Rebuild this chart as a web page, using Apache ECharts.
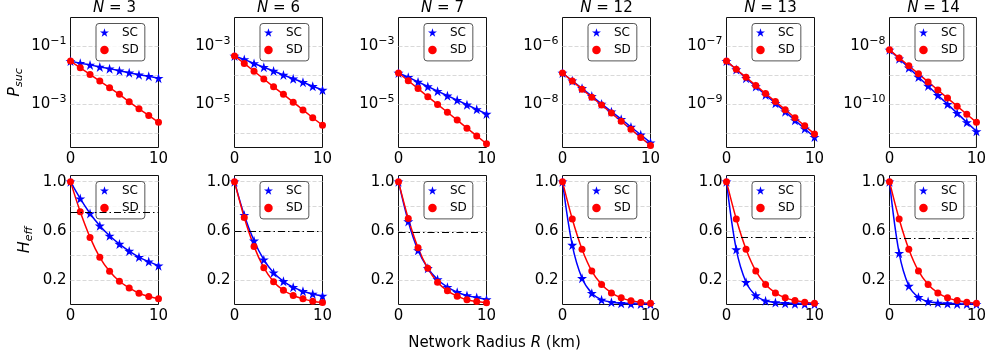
<!DOCTYPE html>
<html>
<head>
<meta charset="utf-8">
<script src="https://cdn.jsdelivr.net/npm/echarts@6/dist/echarts.min.js"></script>
<style>
  html, body { margin: 0; padding: 0; background: #fff; }
  #chart { width: 989px; height: 360px; }
</style>
</head>
<body>
<div id="chart"></div>
<script>
// network sizes, one column each
const N_LIST = [3, 6, 7, 12, 13, 14];
// network radius R (km) of the sampled points
const R_KM = [0, 1.11, 2.22, 3.33, 4.44, 5.56, 6.67, 7.78, 8.89, 10];

// log10 of P_suc
const LOG_PSUC_SC = [
  [-1.51, -1.58, -1.64, -1.71, -1.77, -1.84, -1.91, -1.98, -2.03, -2.10],
  [-3.33, -3.45, -3.59, -3.72, -3.85, -3.99, -4.12, -4.24, -4.38, -4.51],
  [-3.92, -4.07, -4.23, -4.39, -4.55, -4.71, -4.86, -5.02, -5.18, -5.34],
  [-6.92, -7.19, -7.45, -7.72, -7.99, -8.26, -8.52, -8.79, -9.06, -9.33],
  [-7.51, -7.80, -8.10, -8.39, -8.68, -8.97, -9.26, -9.56, -9.85, -10.14],
  [-8.12, -8.43, -8.74, -9.06, -9.37, -9.69, -10.00, -10.31, -10.63, -10.94]
];
const LOG_PSUC_SD = [
  [-1.51, -1.74, -1.97, -2.20, -2.43, -2.66, -2.92, -3.16, -3.39, -3.63],
  [-3.33, -3.59, -3.86, -4.13, -4.40, -4.66, -4.93, -5.20, -5.47, -5.73],
  [-3.92, -4.19, -4.46, -4.74, -5.01, -5.28, -5.55, -5.83, -6.10, -6.37],
  [-6.92, -7.20, -7.48, -7.76, -8.03, -8.31, -8.59, -8.87, -9.15, -9.43],
  [-7.51, -7.79, -8.07, -8.35, -8.63, -8.91, -9.19, -9.47, -9.75, -10.03],
  [-8.12, -8.40, -8.67, -8.95, -9.23, -9.51, -9.79, -10.07, -10.35, -10.63]
];

// H_eff, bottom row
const HEFF_SC = [
  [1.0, 0.862, 0.741, 0.641, 0.559, 0.492, 0.435, 0.386, 0.349, 0.316],
  [1.0, 0.727, 0.519, 0.365, 0.259, 0.189, 0.141, 0.108, 0.086, 0.070],
  [1.0, 0.676, 0.441, 0.295, 0.203, 0.141, 0.100, 0.073, 0.057, 0.041],
  [1.0, 0.484, 0.214, 0.092, 0.038, 0.019, 0.010, 0.006, 0.004, 0.003],
  [1.0, 0.448, 0.181, 0.073, 0.030, 0.016, 0.010, 0.006, 0.004, 0.003],
  [1.0, 0.418, 0.151, 0.059, 0.024, 0.013, 0.008, 0.005, 0.004, 0.003]
];
const HEFF_SD = [
  [1.0, 0.754, 0.546, 0.384, 0.270, 0.189, 0.135, 0.092, 0.065, 0.046],
  [1.0, 0.708, 0.473, 0.300, 0.186, 0.116, 0.073, 0.046, 0.027, 0.016],
  [1.0, 0.700, 0.462, 0.295, 0.181, 0.111, 0.068, 0.038, 0.024, 0.014],
  [1.0, 0.696, 0.450, 0.272, 0.162, 0.094, 0.054, 0.030, 0.017, 0.011],
  [1.0, 0.696, 0.450, 0.273, 0.162, 0.094, 0.054, 0.032, 0.019, 0.011],
  [1.0, 0.696, 0.450, 0.273, 0.162, 0.094, 0.054, 0.032, 0.019, 0.011]
];
// dash-dot reference level in each H_eff panel
const HEFF_REF = [0.75, 0.60, 0.59, 0.55, 0.545, 0.54];

// log10 range of each P_suc axis and the decades that carry a label
const PSUC_RANGE = [[-4.5, 0], [-6.5, -2], [-6.5, -2], [-9.5, -5], [-10.5, -6], [-11.5, -7]];
const PSUC_TICKS = [[-1, -3], [-3, -5], [-3, -5], [-6, -8], [-7, -9], [-8, -10]];
const HEFF_TICKS = [0.2, 0.6, 1.0];

const FONT = 'DejaVu Sans';
const STAR = 'path://M50,0L61.2,34.5L97.6,34.5L68.2,55.9L79.4,90.5L50,69.1L20.6,90.5L31.8,55.9L2.4,34.5L38.8,34.5Z';
const BLUE = '#0000ff';
const RED = '#ff0000';

// half-pixel offsets keep the 1px frames crisp
const PANEL_LEFT = [70.5, 234.5, 398.5, 562.5, 726.5, 889.5];
const PANEL_W = 88;
const ROW_TOP = [17.5, 175.5];
const ROW_H = [130, 129];

const chart = echarts.init(document.getElementById('chart'));

const grid = [], xAxis = [], yAxis = [], series = [], legend = [], graphic = [];

const gridLine = { show: true, showMinLine: false, showMaxLine: false,
  lineStyle: { color: '#d9d9d9', type: [4, 2], width: 1 } };

N_LIST.forEach((n, i) => {
  for (let row = 0; row < 2; row++) {
    const g = grid.length;
    grid.push({
      left: PANEL_LEFT[i], top: ROW_TOP[row], width: PANEL_W, height: ROW_H[row],
      show: true, borderColor: '#111', borderWidth: 1, backgroundColor: 'transparent'
    });
    xAxis.push({
      type: 'value', gridIndex: g, min: 0, max: 10, interval: 10,
      axisLine: { show: false }, axisTick: { show: false }, splitLine: { show: false },
      axisLabel: { fontSize: 15, color: '#000', fontFamily: FONT, margin: 4 }
    });

    if (row === 0) {
      const ticks = PSUC_TICKS[i];
      yAxis.push({
        type: 'value', gridIndex: g,
        min: PSUC_RANGE[i][0], max: PSUC_RANGE[i][1], minInterval: 1, maxInterval: 1,
        axisLine: { show: false }, axisTick: { show: false }, splitLine: gridLine,
        axisLabel: {
          margin: 4, color: '#000', fontFamily: FONT,
          formatter: v => {
            const e = Math.round(v);
            if (Math.abs(v - e) > 1e-6 || !ticks.includes(e)) return '';
            return '{b|10}{s|' + (e < 0 ? '\u2212' : '') + Math.abs(e) + '}';
          },
          rich: {
            b: { fontSize: 15, fontFamily: FONT, color: '#000' },
            s: { fontSize: 11, fontFamily: FONT, color: '#000', padding: [0, 0, 11, 0] }
          }
        },
        name: i === 0 ? '{p|P}{s|suc}' : '', nameLocation: 'middle', nameRotate: 90, nameGap: 46,
        nameTextStyle: {
          color: '#000',
          rich: {
            p: { fontSize: 16, fontStyle: 'italic', fontFamily: FONT, color: '#000' },
            s: { fontSize: 11, fontStyle: 'italic', fontFamily: FONT, color: '#000', padding: [9, 0, 0, 0] }
          }
        }
      });
    } else {
      yAxis.push({
        type: 'value', gridIndex: g, min: 0, max: 1.05, minInterval: 0.2, maxInterval: 0.2,
        axisLine: { show: false }, axisTick: { show: false }, splitLine: gridLine,
        axisLabel: {
          margin: 4, fontSize: 15, color: '#000', fontFamily: FONT,
          formatter: v => HEFF_TICKS.some(t => Math.abs(t - v) < 1e-6) ? v.toFixed(1) : ''
        },
        name: i === 0 ? '{p|H}{s|eff}' : '', nameLocation: 'middle', nameRotate: 90, nameGap: 36,
        nameTextStyle: {
          color: '#000',
          rich: {
            p: { fontSize: 16, fontStyle: 'italic', fontFamily: FONT, color: '#000' },
            s: { fontSize: 11, fontStyle: 'italic', fontFamily: FONT, color: '#000', padding: [9, 0, 0, 0] }
          }
        }
      });
    }

    const sc = row === 0 ? LOG_PSUC_SC[i] : HEFF_SC[i];
    const sd = row === 0 ? LOG_PSUC_SD[i] : HEFF_SD[i];
    const smooth = row === 1 ? 0.35 : false;

    series.push({
      type: 'line', name: 'SC', xAxisIndex: g, yAxisIndex: g,
      data: R_KM.map((r, k) => [r, sc[k]]),
      symbol: STAR, symbolSize: 10, smooth, color: BLUE,
      lineStyle: { width: 1.5, color: BLUE }, itemStyle: { color: BLUE },
      markLine: row === 1 ? {
        silent: true, symbol: 'none', label: { show: false },
        lineStyle: { color: '#000', type: [7, 3, 1.5, 3], width: 1 },
        data: [{ yAxis: HEFF_REF[i] }]
      } : undefined
    });
    series.push({
      type: 'line', name: 'SD', xAxisIndex: g, yAxisIndex: g,
      data: R_KM.map((r, k) => [r, sd[k]]),
      symbol: 'circle', symbolSize: 7, smooth, color: RED,
      lineStyle: { width: 1.5, color: RED }, itemStyle: { color: RED }
    });

    legend.push({
      left: PANEL_LEFT[i] + 25.5, top: ROW_TOP[row] + 6, orient: 'vertical',
      data: [{ name: 'SC', icon: STAR }, { name: 'SD', icon: 'circle' }],
      itemWidth: 25, itemHeight: 8.5, itemGap: 5.4, padding: [3, 6, 5, 4],
      backgroundColor: 'rgba(255,255,255,0.8)', borderColor: '#555', borderWidth: 1, borderRadius: 3,
      selectedMode: false,
      textStyle: { fontSize: 12, color: '#000', fontFamily: FONT, lineHeight: 12 }
    });
  }

  graphic.push({
    type: 'text', x: PANEL_LEFT[i] + PANEL_W / 2, y: 8,
    style: {
      text: '{i|N} = ' + n, fontSize: 15, fontFamily: FONT, fill: '#000',
      align: 'center', verticalAlign: 'middle',
      rich: { i: { fontSize: 15, fontStyle: 'italic', fontFamily: FONT, color: '#000' } }
    }
  });
});

graphic.push({
  type: 'text', x: 494.5, y: 343,
  style: {
    text: 'Network Radius {i|R} (km)', fontSize: 15, fontFamily: FONT, fill: '#000',
    align: 'center', verticalAlign: 'middle',
    rich: { i: { fontSize: 15, fontStyle: 'italic', fontFamily: FONT, color: '#000' } }
  }
});

chart.setOption({
  animation: false,
  textStyle: { fontFamily: FONT },
  grid, xAxis, yAxis, series, legend, graphic
});
</script>
</body>
</html>
